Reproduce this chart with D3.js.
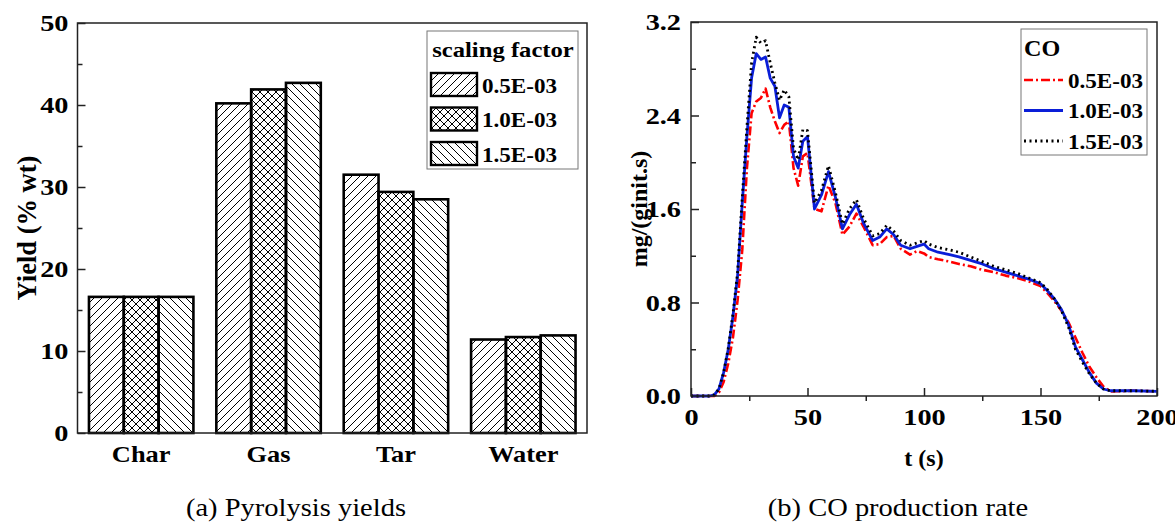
<!DOCTYPE html>
<html>
<head>
<meta charset="utf-8">
<script src="https://cdn.jsdelivr.net/npm/d3@7"></script>
<style>
  body { margin: 0; background: #fff; }
  svg { display: block; font-family: "Liberation Serif", "Times New Roman", serif; }
  .tick text { font-family: "Liberation Serif", "Times New Roman", serif; font-weight: bold; font-size: 24px; fill: #000; }
  .domain { display: none; }
  .tick line { stroke: #222; stroke-width: 1.5; }
</style>
</head>
<body>
<div id="graf"></div>
<script>
// Data
const categories = ["Char", "Gas", "Tar", "Water"]
const factors = ["0.5E-03", "1.0E-03", "1.5E-03"]
const yield05 = [16.6, 40.2, 31.5, 11.4]
const yield10 = [16.6, 41.9, 29.4, 11.7]
const yield15 = [16.6, 42.7, 28.5, 11.9]
const yTicksA = [0, 10, 20, 30, 40, 50]

const time = [0, 8, 10, 12, 14, 16, 18, 20, 22, 24, 26, 28, 30, 32, 34, 36, 38, 40, 42, 44, 46, 48, 50,
  53, 56, 59, 62, 65, 68, 71, 74, 78, 81, 84, 87, 90, 94, 97, 100, 102, 106, 111, 115, 120, 125, 130,
  135, 140, 145, 150, 153, 156, 159, 162, 165, 168, 171, 174, 177, 180, 182, 190, 200]
const co05 = [0, 0, 0, 0.03, 0.12, 0.28, 0.5, 0.82, 1.25, 1.95, 2.42, 2.52, 2.55, 2.63, 2.47, 2.35, 2.25, 2.32, 2.35, 1.95, 1.8, 2.05, 2.08,
  1.6, 1.58, 1.8, 1.65, 1.38, 1.45, 1.56, 1.45, 1.29, 1.3, 1.36, 1.37, 1.26, 1.21, 1.24, 1.22, 1.19, 1.17, 1.15, 1.13, 1.11, 1.08, 1.06,
  1.03, 1.01, 0.98, 0.94, 0.88, 0.81, 0.73, 0.63, 0.5, 0.37, 0.25, 0.16, 0.08, 0.04, 0.04, 0.045, 0.04]
const co10 = [0, 0, 0.01, 0.06, 0.2, 0.4, 0.68, 1.03, 1.65, 2.22, 2.72, 2.93, 2.88, 2.9, 2.72, 2.65, 2.38, 2.49, 2.47, 2.05, 1.95, 2.18, 2.22,
  1.6, 1.72, 1.92, 1.7, 1.43, 1.55, 1.64, 1.48, 1.33, 1.36, 1.43, 1.38, 1.29, 1.26, 1.28, 1.3, 1.26, 1.23, 1.21, 1.19, 1.16, 1.13, 1.09,
  1.06, 1.03, 1.0, 0.96, 0.9, 0.83, 0.74, 0.61, 0.42, 0.31, 0.2, 0.11, 0.06, 0.045, 0.045, 0.045, 0.04]
const co15 = [0, 0, 0.01, 0.06, 0.2, 0.41, 0.7, 1.06, 1.7, 2.3, 2.85, 3.07, 3.02, 3.04, 2.85, 2.68, 2.53, 2.62, 2.56, 2.12, 2.02, 2.28, 2.27,
  1.65, 1.76, 1.97, 1.74, 1.47, 1.6, 1.68, 1.52, 1.37, 1.39, 1.46, 1.41, 1.33, 1.29, 1.31, 1.33, 1.3, 1.27, 1.25, 1.23, 1.19, 1.15, 1.11,
  1.08, 1.05, 1.01, 0.97, 0.91, 0.83, 0.73, 0.59, 0.4, 0.29, 0.19, 0.11, 0.06, 0.045, 0.045, 0.045, 0.04]
const xTicksB = [0, 50, 100, 150, 200]
const yTicksB = [0, 0.8, 1.6, 2.4, 3.2]

const svg = d3.select("#graf").append("svg").attr("width", 1175).attr("height", 522)

// widen text horizontally around its anchor (the reference type is stretched)
const stretch = (sel, k) => sel.each(function () {
  const t = d3.select(this)
  const x = +t.attr("x") || 0, y = +t.attr("y") || 0
  t.attr("transform", `translate(${x},${y}) scale(${k},1) translate(${-x},${-y})`)
})

// patterns
const defs = svg.append("defs")
const pats = [
  { id: "p0", d: "M-2,2 L2,-2 M0,8 L8,0 M6,10 L10,6" },
  { id: "p1", d: "M-2,2 L2,-2 M0,8 L8,0 M6,10 L10,6 M-2,6 L2,10 M0,0 L8,8 M6,-2 L10,2" },
  { id: "p2", d: "M-2,6 L2,10 M0,0 L8,8 M6,-2 L10,2" },
]
pats.forEach(p => {
  defs.append("pattern").attr("id", p.id).attr("patternUnits", "userSpaceOnUse")
    .attr("width", 8).attr("height", 8)
    .append("path").attr("d", p.d).attr("stroke", "#000").attr("stroke-width", 1).attr("fill", "none")
})

// ---------- (a) bar chart ----------
const A = { left: 77.5, top: 23, right: 587, bottom: 433 }
const gA = svg.append("g")
const x0 = d3.scaleBand().domain(categories).range([A.left, A.right]).paddingInner(0.18).paddingOuter(0.09)
const x1 = d3.scaleBand().domain(factors).range([0, x0.bandwidth()])
const yA = d3.scaleLinear().domain([0, 50]).range([A.bottom, A.top])

const series = [yield05, yield10, yield15]
series.forEach((vals, si) => {
  gA.selectAll(null).data(vals).join("rect")
    .attr("x", (d, i) => x0(categories[i]) + x1(factors[si]))
    .attr("y", d => yA(d))
    .attr("width", x1.bandwidth())
    .attr("height", d => yA(0) - yA(d))
    .attr("fill", `url(#p${si})`)
    .attr("stroke", "#000").attr("stroke-width", 2.6)
})

gA.append("rect").attr("x", A.left).attr("y", A.top)
  .attr("width", A.right - A.left).attr("height", A.bottom - A.top)
  .attr("fill", "none").attr("stroke", "#222").attr("stroke-width", 1.5)

gA.append("g").attr("transform", `translate(${A.left},0)`)
  .call(d3.axisLeft(yA).tickValues(yTicksA).tickSizeInner(-8).tickSizeOuter(0).tickPadding(9).tickFormat(d3.format("d")))
  .selectAll("text").call(stretch, 1.18)
gA.append("g").attr("transform", `translate(${A.left},0)`)
  .call(d3.axisLeft(yA).tickValues([5, 15, 25, 35, 45]).tickSizeInner(-5).tickSizeOuter(0).tickFormat(""))
gA.append("g").attr("transform", `translate(0,${A.bottom})`)
  .call(d3.axisBottom(x0).tickSize(0).tickPadding(12))
  .selectAll("text").style("font-size", "24px").call(stretch, 1.1)

gA.append("text").attr("transform", `translate(36,${(A.top + A.bottom) / 2}) rotate(-90)`)
  .attr("text-anchor", "middle").attr("font-weight", "bold").attr("font-size", 26.5).text("Yield (% wt)")
gA.append("text").attr("x", 296).attr("y", 516).attr("text-anchor", "middle")
  .attr("font-size", 25).text("(a) Pyrolysis yields").call(stretch, 1.14)

// legend (a)
const lgA = gA.append("g")
lgA.append("rect").attr("x", 427).attr("y", 31).attr("width", 151).attr("height", 138)
  .attr("fill", "#fff").attr("stroke", "#777").attr("stroke-width", 1)
lgA.append("text").attr("x", 503).attr("y", 57).attr("text-anchor", "middle")
  .attr("font-weight", "bold").attr("font-size", 22).text("scaling factor").call(stretch, 1.12)
factors.forEach((f, i) => {
  const yy = 73 + i * 34.5
  lgA.append("rect").attr("x", 431).attr("y", yy).attr("width", 46).attr("height", 23)
    .attr("fill", `url(#p${i})`).attr("stroke", "#000").attr("stroke-width", 2.4)
  lgA.append("text").attr("x", 482).attr("y", yy + 20).attr("font-weight", "bold")
    .attr("font-size", 22).text(f).call(stretch, 1.05)
})

// ---------- (b) line chart ----------
const B = { left: 691, top: 22, right: 1157, bottom: 396 }
const gB = svg.append("g")
const xB = d3.scaleLinear().domain([0, 200]).range([B.left, B.right])
const yB = d3.scaleLinear().domain([0, 3.2]).range([B.bottom, B.top])

gB.append("g").attr("transform", `translate(0,${B.bottom})`)
  .call(d3.axisBottom(xB).tickValues(xTicksB).tickSizeInner(-8).tickSizeOuter(0).tickPadding(12).tickFormat(d3.format("d")))
  .selectAll("text").call(stretch, 1.18)
gB.append("g").attr("transform", `translate(0,${B.bottom})`)
  .call(d3.axisBottom(xB).tickValues([25, 75, 125, 175]).tickSizeInner(5).tickSizeOuter(0).tickFormat(""))
gB.append("g").attr("transform", `translate(${B.left},0)`)
  .call(d3.axisLeft(yB).tickValues(yTicksB).tickSizeInner(-8).tickSizeOuter(0).tickPadding(10).tickFormat(d3.format(".1f")))
  .selectAll("text").call(stretch, 1.18)
gB.append("g").attr("transform", `translate(${B.left},0)`)
  .call(d3.axisLeft(yB).tickValues([0.4, 1.2, 2.0, 2.8]).tickSizeInner(-5).tickSizeOuter(0).tickFormat(""))

const line = d3.line().x((d, i) => xB(time[i])).y(d => yB(d))
const styles = [
  { data: co05, color: "#ff0000", dash: "9,3,2,3", width: 2.6 },
  { data: co10, color: "#0a1ed8", dash: null, width: 2.8 },
  { data: co15, color: "#000", dash: "2,3.5", width: 2.8 },
]
styles.forEach(s => {
  gB.append("path").datum(s.data).attr("d", line)
    .attr("fill", "none").attr("stroke", s.color).attr("stroke-width", s.width)
    .attr("stroke-dasharray", s.dash).attr("stroke-linejoin", "round")
})

gB.append("rect").attr("x", B.left).attr("y", B.top)
  .attr("width", B.right - B.left).attr("height", B.bottom - B.top)
  .attr("fill", "none").attr("stroke", "#222").attr("stroke-width", 1.5)

gB.append("text").attr("x", 924).attr("y", 466).attr("text-anchor", "middle")
  .attr("font-weight", "bold").attr("font-size", 24).text("t (s)")
gB.append("text").attr("transform", `translate(647,${(B.top + B.bottom) / 2}) rotate(-90)`)
  .attr("text-anchor", "middle").attr("font-weight", "bold").attr("font-size", 24).text("mg/(ginit.s)")
gB.append("text").attr("x", 898).attr("y", 516).attr("text-anchor", "middle")
  .attr("font-size", 25).text("(b) CO production rate").call(stretch, 1.14)

// legend (b)
const lgB = gB.append("g")
lgB.append("rect").attr("x", 1021).attr("y", 29).attr("width", 126).attr("height", 126)
  .attr("fill", "#fff").attr("stroke", "#777").attr("stroke-width", 1)
lgB.append("text").attr("x", 1024).attr("y", 56).attr("font-weight", "bold").attr("font-size", 23)
  .text("CO").call(stretch, 1.05)
factors.forEach((f, i) => {
  const yy = 80 + i * 30.5
  lgB.append("line").attr("x1", 1024).attr("x2", 1063).attr("y1", yy).attr("y2", yy)
    .attr("stroke", styles[i].color).attr("stroke-width", styles[i].width)
    .attr("stroke-dasharray", styles[i].dash)
  lgB.append("text").attr("x", 1068).attr("y", yy + 8).attr("font-weight", "bold")
    .attr("font-size", 22).text(f).call(stretch, 1.05)
})
</script>
</body>
</html>
